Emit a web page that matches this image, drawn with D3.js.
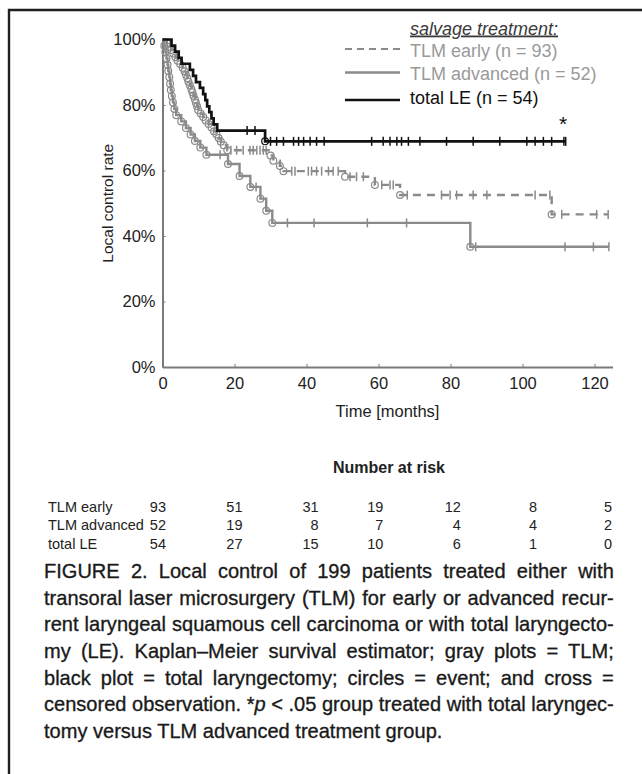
<!DOCTYPE html>
<html>
<head>
<meta charset="utf-8">
<script src="https://cdn.jsdelivr.net/npm/d3@7"></script>
<style>
  html, body { margin: 0; padding: 0; background: #fff; }
  svg { display: block; }
  text { font-family: "Liberation Sans", Arial, Helvetica, sans-serif; }
</style>
</head>
<body>
<script>
// ---- Kaplan–Meier step data (time in months, local control in %) ----
// TLM early (n = 93)
const earlyTimes = [1.2, 1.8, 2.4, 3.0, 3.6, 4.2, 4.9, 5.6, 6.1, 6.5, 6.9, 7.2, 7.6, 8.0, 8.3, 8.6, 9.0, 9.3, 9.6, 9.9,
                    10.6, 11.3, 12.0, 12.8, 13.6, 14.3, 15.0, 15.6, 16.2, 17.0, 18.0, 30.0, 30.8, 32.6, 33.6, 50.7, 59.0, 66.0, 108.1];
const earlySurv  = [98.9, 97.8, 96.8, 95.7, 94.6, 93.5, 92.5, 91.4, 90.3, 89.2, 88.2, 87.1, 86.0, 84.9, 83.9, 82.8, 81.7, 80.6, 79.6, 78.5,
                    77.4, 76.3, 75.3, 74.2, 73.1, 72.0, 71.0, 69.9, 68.8, 67.7, 66.2, 64.6, 63.0, 61.4, 59.8, 58.1, 55.6, 52.5, 46.6];
const earlyCensor = [19.0, 20.6, 22.4, 24.3, 25.2, 26.2, 27.1, 28.0, 28.8, 35.9, 36.8, 40.5, 41.4, 42.8, 44.2, 46.1, 47.4, 48.8,
                     52.1, 53.9, 55.8, 60.9, 63.2, 64.1, 68.0, 77.5, 79.9, 81.7, 86.3, 90.1, 103.5, 107.6, 110.9, 120.6];
const earlyEnd = 123.8;

// TLM advanced (n = 52)
const advTimes = [0.5, 0.8, 1.1, 1.4, 1.6, 1.9, 2.1, 2.3, 2.6, 2.9, 3.3, 3.8, 5.2, 6.5, 7.8, 9.0, 10.5, 12.2,
                  18.2, 21.4, 24.4, 27.2, 28.8, 30.5, 85.5];
const advSurv  = [98.1, 96.2, 94.2, 92.3, 90.4, 88.5, 86.5, 84.6, 82.7, 80.8, 78.8, 76.9, 75.0, 73.0, 71.0, 69.0, 67.0, 64.8,
                  62.0, 58.3, 55.0, 51.4, 47.7, 44.0, 36.7];
const advCensor = [16.0, 26.0, 34.7, 42.1, 56.9, 67.8, 87.0, 111.8, 119.7];
const advEnd = 124.0;

// total LE (n = 54)
const leTimes = [2.5, 3.5, 4.5, 5.3, 7.6, 8.5, 9.3, 10.4, 11.3, 11.9, 12.4, 13.0, 13.6, 14.2, 15.2, 28.5];
const leSurv  = [98.1, 96.3, 94.4, 92.6, 90.7, 88.9, 87.0, 85.2, 83.3, 81.5, 79.6, 77.8, 75.9, 74.1, 72.2, 68.9];
const leCircles = [28.5];
const leCensor = [23.5, 25.7, 30.0, 31.7, 33.6, 36.4, 37.8, 39.2, 41.0, 42.8, 44.9, 58.1, 61.3, 63.2, 65.1, 66.4, 68.3,
                  71.5, 78.9, 86.3, 93.7, 101.2, 103.5, 105.8, 108.1, 111.5];
const leEnd = 112.0;

// ---- Axis ticks ----
const xTicks = [0, 20, 40, 60, 80, 100, 120];
const yTicks = [0, 20, 40, 60, 80, 100];

// ---- Number at risk ----
const riskGroups = ["TLM early", "TLM advanced", "total LE"];
const riskEarly = [93, 51, 31, 19, 12, 8, 5];
const riskAdv   = [52, 19, 8, 7, 4, 4, 2];
const riskLE    = [54, 27, 15, 10, 6, 1, 0];

// ---- Legend ----
const legendTitle = "salvage treatment:";
const legendLabels = ["TLM early (n = 93)", "TLM advanced (n = 52)", "total LE (n = 54)"];

// ---- Caption ----
const captionLines = [
  "FIGURE 2. Local control of 199 patients treated either with",
  "transoral laser microsurgery (TLM) for early or advanced recur-",
  "rent laryngeal squamous cell carcinoma or with total laryngecto-",
  "my (LE). Kaplan–Meier survival estimator; gray plots = TLM;",
  "black plot = total laryngectomy; circles = event; and cross =",
  "censored observation. *p < .05 group treated with total laryngec-",
  "tomy versus TLM advanced treatment group."
];

// ================= drawing =================
const W = 642, H = 774;
const GRAY = "#8a8a8a", BLACK = "#111", AXIS = "#7a7a7a", INK = "#222";

const svg = d3.select("body").append("svg").attr("width", W).attr("height", H);
svg.append("rect").attr("width", W).attr("height", H).attr("fill", "#fff");

// page frame (open on the right and bottom)
svg.append("path")
  .attr("d", `M9,${H} V10 H${W}`)
  .attr("fill", "none").attr("stroke", "#231f20").attr("stroke-width", 2.4);

const x = d3.scaleLinear().domain([0, 125]).range([162.5, 612.5]);
const y = d3.scaleLinear().domain([0, 100]).range([367, 39.5]);

// axes
const xAxis = svg.append("g").attr("transform", `translate(0,${y(0)})`)
  .call(d3.axisBottom(x).tickValues(xTicks).tickSizeInner(-3).tickSizeOuter(0).tickPadding(10));
const yAxis = svg.append("g").attr("transform", `translate(${x(0)},0)`)
  .call(d3.axisLeft(y).tickValues(yTicks).tickFormat(d => d + "%").tickSizeInner(-3).tickSizeOuter(0).tickPadding(7));
[xAxis, yAxis].forEach(g => {
  g.select(".domain").attr("stroke", AXIS).attr("stroke-width", 2);
  g.selectAll(".tick line").attr("stroke", AXIS).attr("stroke-width", 1);
  g.selectAll(".tick text").attr("fill", INK).style("font-size", "16.5px")
    .style("font-family", '"Liberation Sans", Arial, sans-serif');
});

svg.append("text")
  .attr("transform", `translate(113,${(y(0) + y(100)) / 2}) rotate(-90)`)
  .attr("text-anchor", "middle").attr("fill", INK).style("font-size", "15.5px")
  .text("Local control rate");

svg.append("text")
  .attr("x", (x(0) + x(125)) / 2).attr("y", 417)
  .attr("text-anchor", "middle").attr("fill", INK).style("font-size", "16.5px")
  .text("Time [months]");

// Kaplan–Meier curves
const series = [
  { times: advTimes, surv: advSurv, censor: advCensor, circles: advTimes, end: advEnd, color: GRAY, dash: null, width: 2.4 },
  { times: earlyTimes, surv: earlySurv, censor: earlyCensor, circles: earlyTimes, end: earlyEnd, color: GRAY, dash: "8,6", width: 2.4 },
  { times: leTimes, surv: leSurv, censor: leCensor, circles: leCircles, end: leEnd, color: BLACK, dash: null, width: 2.7 }
];

const stepLine = d3.line().x(d => x(d[0])).y(d => y(d[1])).curve(d3.curveStepAfter);

function levelAt(s, t) {
  let v = 100;
  s.times.forEach((tt, i) => { if (tt <= t) v = s.surv[i]; });
  return v;
}

series.forEach(s => {
  const pts = [[0, 100]].concat(s.times.map((t, i) => [t, s.surv[i]]));
  pts.push([s.end, s.surv[s.surv.length - 1]]);
  const g = svg.append("g");
  g.append("path").attr("d", stepLine(pts))
    .attr("fill", "none").attr("stroke", s.color).attr("stroke-width", s.width)
    .attr("stroke-dasharray", s.dash);
  g.selectAll("line.censor").data(s.censor.concat([s.end])).join("line")
    .attr("x1", d => x(d)).attr("x2", d => x(d))
    .attr("y1", d => y(levelAt(s, d)) - 4.5).attr("y2", d => y(levelAt(s, d)) + 4.5)
    .attr("stroke", s.color).attr("stroke-width", 1.5);
  g.selectAll("circle").data(s.circles).join("circle")
    .attr("cx", d => x(d)).attr("cy", d => y(levelAt(s, d)))
    .attr("r", 3.4).attr("fill", "none").attr("stroke", s.color).attr("stroke-width", 1.2);
});

// significance marker at the end of the total LE curve
svg.append("text").attr("x", 563).attr("y", 131).attr("text-anchor", "middle")
  .attr("fill", BLACK).style("font-size", "21px").text("*");

// legend
svg.append("text").attr("x", 410).attr("y", 34.5)
  .attr("fill", "#3a3a3a").style("font-size", "18px").style("font-style", "italic")
  .style("text-decoration", "underline").text(legendTitle);
const legY = [49, 72.5, 100];
const legBase = [56.5, 80, 103.5];
const legStyle = [
  { color: GRAY, dash: "7,5", width: 2.2, text: "#9a9a9a" },
  { color: GRAY, dash: null, width: 2.4, text: "#9a9a9a" },
  { color: BLACK, dash: null, width: 2.6, text: "#111" }
];
legendLabels.forEach((lab, i) => {
  const st = legStyle[i];
  svg.append("line").attr("x1", 345).attr("x2", 400).attr("y1", legY[i]).attr("y2", legY[i])
    .attr("stroke", st.color).attr("stroke-width", st.width).attr("stroke-dasharray", st.dash);
  svg.append("text").attr("x", 410).attr("y", legBase[i]).attr("fill", st.text)
    .style("font-size", "18px").text(lab);
});

// number at risk table
svg.append("text").attr("x", 389).attr("y", 473).attr("text-anchor", "middle")
  .attr("fill", INK).style("font-size", "16px").style("font-weight", "bold").text("Number at risk");
const riskColRight = [166, 242.5, 318.7, 383.4, 460.8, 537, 612];
const riskRows = [riskEarly, riskAdv, riskLE];
const rowBase = [512, 530, 548.5];
riskRows.forEach((row, r) => {
  svg.append("text").attr("x", 48).attr("y", rowBase[r]).attr("fill", INK)
    .style("font-size", "14.5px").text(riskGroups[r]);
  row.forEach((v, c) => {
    svg.append("text").attr("x", riskColRight[c]).attr("y", rowBase[r]).attr("text-anchor", "end")
      .attr("fill", INK).style("font-size", "14.5px").text(v);
  });
});

// caption: condensed, justified between x = 44 and x = 614
const capLeft = 44, capWidth = 570, capTop = 578.3, capStep = 26.6;
const capG = svg.append("g");
const capTexts = captionLines.map((line, i) => {
  const t = capG.append("text").attr("x", 0).attr("y", capTop + i * capStep)
    .attr("fill", "#1a1a1a").attr("stroke", "#1a1a1a").attr("stroke-width", 0.35)
    .style("font-family", '"Liberation Sans Narrow", "Liberation Sans", Arial, sans-serif')
    .style("font-size", "20.5px");
  if (line.includes("*p")) {
    const [a, b] = line.split("*p");
    t.append("tspan").text(a + "*");
    t.append("tspan").style("font-style", "italic").text("p");
    t.append("tspan").text(b);
  } else {
    t.text(line);
  }
  return t;
});
const natural = capTexts.map(t => t.node().getComputedTextLength());
const sx = capWidth / d3.max(natural.slice(0, -1));
capG.attr("transform", `translate(${capLeft},0) scale(${sx},1)`);
capTexts.forEach((t, i) => {
  if (i === capTexts.length - 1) return;
  const spaces = (captionLines[i].match(/ /g) || []).length;
  const extra = (capWidth / sx - natural[i]) / spaces;
  t.style("word-spacing", extra + "px");
});
</script>
</body>
</html>
